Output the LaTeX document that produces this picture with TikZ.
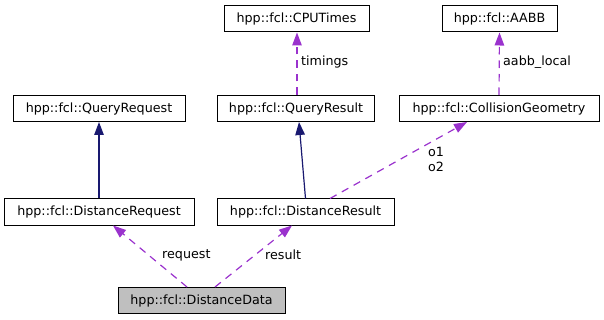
\documentclass[tikz,border=0pt]{standalone}
\usepackage{fontspec}
\setmainfont{DejaVu Sans}
\usetikzlibrary{arrows.meta}
\definecolor{inhblue}{HTML}{191970}
\definecolor{usepurple}{HTML}{9A32CD}
\definecolor{selgray}{HTML}{BFBFBF}
\tikzset{
  cls/.style={draw=black, line width=1pt, fill=white, minimum height=26pt,
    inner sep=0pt, font=\fontsize{12.7}{15}\selectfont},
  current/.style={cls, fill=selgray},
  inherit/.style={draw=inhblue, line width=1.2pt,
    -{Triangle[length=13pt,width=9.5pt]}},
  uses/.style={draw=usepurple, line width=1.2pt, dash pattern=on 7.5pt off 6pt,
    -{Triangle[length=13pt,width=9.5pt]}},
  elabel/.style={font=\fontsize{12.7}{15}\selectfont, inner sep=0pt, anchor=west}
}
\begin{document}
\begin{tikzpicture}[x=1pt,y=-1pt]
\useasboundingbox (0,0) rectangle (604,320);

% class boxes
\node[cls, minimum width=145pt] (cpu)  at (296.5,19)  {hpp::fcl::CPUTimes};
\node[cls, minimum width=115pt] (aabb) at (499.5,19)  {hpp::fcl::AABB};
\node[cls, minimum width=172pt] (qreq) at (99,108.5)  {hpp::fcl::QueryRequest};
\node[cls, minimum width=157pt] (qres) at (296,108.5) {hpp::fcl::QueryResult};
\node[cls, minimum width=200pt] (cgeo) at (499,108.5) {hpp::fcl::CollisionGeometry};
\node[cls, minimum width=190pt] (dreq) at (99,212)    {hpp::fcl::DistanceRequest};
\node[cls, minimum width=177pt] (dres) at (305.5,212) {hpp::fcl::DistanceResult};
\node[current, minimum width=167pt] (ddat) at (201.5,300.5) {hpp::fcl::DistanceData};

% inheritance
\draw[inherit] (dreq.north) -- (qreq.south);
\draw[inherit] (dres.north) -- ([xshift=3pt]qres.south);

% usage relations
\draw[uses] ([xshift=1pt]qres.north) -- ([xshift=0.5pt]cpu.south);
\draw[uses] (cgeo.north) -- (aabb.south);
\draw[uses] ([xshift=24.5pt]dres.north) -- ([xshift=-32pt]cgeo.south);
\draw[uses] ([xshift=-14.5pt]ddat.north) -- ([xshift=14pt]dreq.south);
\draw[uses] ([xshift=13.5pt]ddat.north) -- ([xshift=-13.5pt]dres.south);

% edge labels
\node[elabel] (ltim) at (301,62)  {timings};
\node[elabel] (laab) at (503,62)  {aabb\_local};
\node[elabel, align=center] (lobj) at (428,159.5) {o1\\o2};
\node[elabel] (lreq) at (162,255) {request};
\node[elabel] (lres) at (265,255) {result};
\end{tikzpicture}
\end{document}
